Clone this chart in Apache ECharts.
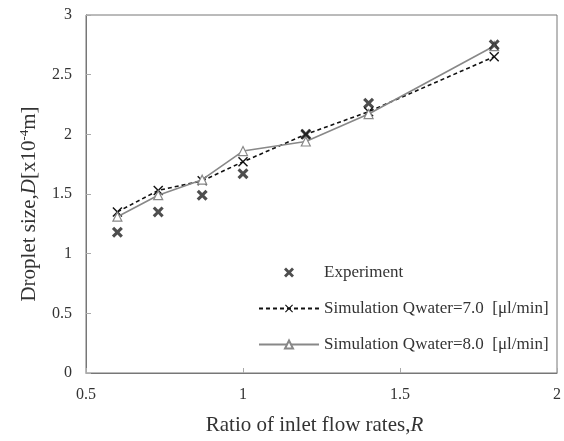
<!DOCTYPE html>
<html>
<head>
<meta charset="utf-8">
<script src="https://cdn.jsdelivr.net/npm/echarts@6/dist/echarts.min.js"></script>
<style>
  html, body { margin: 0; padding: 0; background: #fff; }
  #chart { width: 564px; height: 441px; }
</style>
</head>
<body>
<div id="chart"></div>
<script>
// data
var ratioR = [0.6, 0.73, 0.87, 1.0, 1.2, 1.4, 1.8]
var experiment = [1.18, 1.35, 1.49, 1.67, 2.0, 2.26, 2.75]
var sim70 = [1.35, 1.53, 1.61, 1.77, 2.0, 2.19, 2.65]
var sim80 = [1.31, 1.49, 1.62, 1.86, 1.94, 2.17, 2.74]

function pairs(ys) {
  return ratioR.map(function (x, i) { return [x, ys[i]] })
}

var boldX = 'path://M0,2 L2,0 L5,3 L8,0 L10,2 L7,5 L10,8 L8,10 L5,7 L2,10 L0,8 L3,5 Z'
var thinX = 'path://M0,1 L1,0 L5,4 L9,0 L10,1 L6,5 L10,9 L9,10 L5,6 L1,10 L0,9 L4,5 Z'
var font = 'Liberation Serif'

var myChart = echarts.init(document.getElementById('chart'))
var option = {
  animation: false,
  textStyle: { fontFamily: font, color: '#333' },
  grid: {
    left: 86, right: 6, top: 15, bottom: 63,
    show: true, borderColor: '#777', borderWidth: 1
  },
  legend: {
    orient: 'vertical',
    left: 253, top: 259,
    itemWidth: 60, itemHeight: 10, itemGap: 19,
    textStyle: { fontFamily: font, fontSize: 17, color: '#333' },
    data: ['Experiment', 'Simulation Qwater=7.0  [μl/min]', 'Simulation Qwater=8.0  [μl/min]']
  },
  xAxis: {
    type: 'value', min: 0.5, max: 2, interval: 0.5,
    name: 'Ratio of inlet flow rates,{i|R}',
    nameLocation: 'middle', nameGap: 42,
    nameTextStyle: {
      fontFamily: font, fontSize: 21, color: '#333', padding: [0, 14, 0, 0],
      rich: { i: { fontFamily: font, fontSize: 21, fontStyle: 'italic', color: '#333' } }
    },
    axisLine: { show: true, lineStyle: { color: '#777' } },
    axisTick: { show: true, inside: true, length: 5, lineStyle: { color: '#aaa' } },
    axisLabel: { fontFamily: font, fontSize: 16, color: '#333', margin: 14,
      formatter: function (v) { return String(v) } },
    splitLine: { show: false }
  },
  yAxis: {
    type: 'value', min: 0, max: 3, interval: 0.5,
    name: 'Droplet size,{i|D}[x10{s|-4}m]',
    nameLocation: 'middle', nameGap: 46,
    nameTextStyle: {
      fontFamily: font, fontSize: 21, color: '#333', padding: [0, 20, 0, 0],
      rich: {
        i: { fontFamily: font, fontSize: 21, fontStyle: 'italic', color: '#333' },
        s: { fontFamily: font, fontSize: 13, color: '#333', verticalAlign: 'top', padding: [0, 0, 9, 0] }
      }
    },
    axisLine: { show: true, lineStyle: { color: '#777' } },
    axisTick: { show: true, inside: true, length: 5, lineStyle: { color: '#aaa' } },
    axisLabel: { fontFamily: font, fontSize: 16, color: '#333', margin: 14,
      formatter: function (v) { return String(v) } },
    splitLine: { show: false }
  },
  series: [
    {
      name: 'Experiment',
      type: 'scatter',
      data: pairs(experiment),
      symbol: boldX, symbolSize: 11,
      itemStyle: { color: '#222' },
      z: 5
    },
    {
      name: 'Simulation Qwater=7.0  [μl/min]',
      type: 'line',
      data: pairs(sim70),
      symbol: thinX, symbolSize: 10,
      itemStyle: { color: '#111' },
      lineStyle: { color: '#111', width: 1.6, type: [4, 3] },
      z: 3
    },
    {
      name: 'Simulation Qwater=8.0  [μl/min]',
      type: 'line',
      data: pairs(sim80),
      symbol: 'triangle', symbolSize: 9,
      itemStyle: { color: '#fff', borderColor: '#888', borderWidth: 1.2 },
      lineStyle: { color: '#888', width: 1.6 },
      z: 4
    }
  ]
}
myChart.setOption(option)
window.onresize = () => { myChart.resize() }
</script>
</body>
</html>
